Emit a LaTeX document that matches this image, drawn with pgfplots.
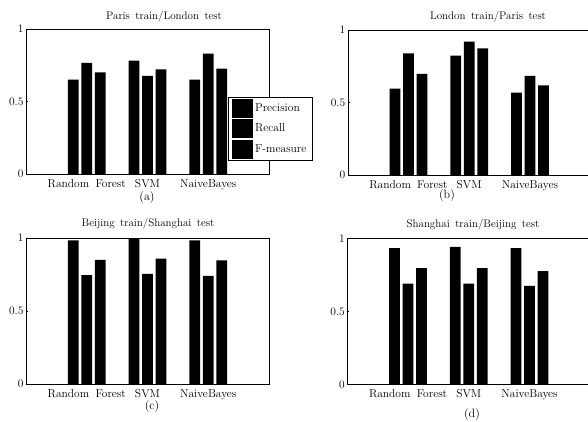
\documentclass[border=0pt]{standalone}
\usepackage{pgfplots}
\pgfplotsset{compat=1.18}
\pgfplotsset{
  panel/.style={
    scale only axis, width=243pt,
    xmin=0, xmax=4, ymin=0, ymax=1,
    xtick={1,2,3}, xticklabels={Random\hspace{0.55em}Forest, SVM, NaiveBayes},
    ytick={0,0.5,1}, yticklabels={0,0.5,1},
    xtick style={draw=none}, ytick style={black, thin},
    tick pos=left, major tick length=2pt,
    tick label style={font=\fontsize{11.5}{13}\selectfont},
    xticklabel style={yshift=0pt},
    yticklabel style={xshift=1pt},
    axis line style={black, thin},
    ybar, bar width=0.178, area legend,
    every axis plot/.append style={fill=black, draw=none},
    anchor=south west,
  },
}
\begin{document}
\begin{tikzpicture}
% (a)
\begin{axis}[panel, at={(26pt,247pt)}, height=145pt,
  legend style={at={(rel axis cs:0.831,0.531)}, anchor=north west, draw=black, thin,
    font=\fontsize{11.5}{13}\selectfont, inner xsep=4pt, inner ysep=1.5pt, row sep=1.5pt,
    cells={anchor=west}},
  legend image code/.code={\fill[black] (0pt,-9.5pt) rectangle (21pt,9.5pt);},
  legend cell align=left]
\addplot[bar shift=-0.222] coordinates {(1,0.651) (2,0.782) (3,0.651)};
\addplot[bar shift=0] coordinates {(1,0.766) (2,0.676) (3,0.830)};
\addplot[bar shift=0.222] coordinates {(1,0.701) (2,0.722) (3,0.726)};
\legend{Precision, Recall, F-measure}
\end{axis}
% (b)
\begin{axis}[panel, at={(347.7pt,246pt)}, height=145pt]
\addplot[bar shift=-0.222] coordinates {(1,0.595) (2,0.823) (3,0.568)};
\addplot[bar shift=0] coordinates {(1,0.839) (2,0.920) (3,0.683)};
\addplot[bar shift=0.222] coordinates {(1,0.697) (2,0.874) (3,0.618)};
\end{axis}
% (c)
\begin{axis}[panel, at={(26pt,37pt)}, height=146pt]
\addplot[bar shift=-0.222] coordinates {(1,0.984) (2,0.993) (3,0.984)};
\addplot[bar shift=0] coordinates {(1,0.746) (2,0.755) (3,0.741)};
\addplot[bar shift=0.222] coordinates {(1,0.851) (2,0.858) (3,0.847)};
\end{axis}
% (d)
\begin{axis}[panel, at={(347.3pt,36.7pt)}, height=146pt]
\addplot[bar shift=-0.222] coordinates {(1,0.932) (2,0.941) (3,0.932)};
\addplot[bar shift=0] coordinates {(1,0.689) (2,0.689) (3,0.674)};
\addplot[bar shift=0.222] coordinates {(1,0.795) (2,0.795) (3,0.776)};
\end{axis}
\begin{scope}[every node/.style={font=\fontsize{11}{13}\selectfont, inner sep=0pt}]
\node at (164pt,404pt) {Paris\hspace{0.5em}train/London\hspace{0.5em}test};
\node at (488pt,404pt) {London\hspace{0.5em}train/Paris\hspace{0.5em}test};
\node at (148pt,197pt) {Beijing\hspace{0.5em}train/Shanghai\hspace{0.5em}test};
\node at (473pt,196pt) {Shanghai\hspace{0.5em}train/Beijing\hspace{0.5em}test};
\node[font=\fontsize{12}{14}\selectfont] at (147pt,223pt) {(a)};
\node[font=\fontsize{12}{14}\selectfont] at (447pt,225pt) {(b)};
\node[font=\fontsize{12}{14}\selectfont] at (152pt,14pt) {(c)};
\node[font=\fontsize{12}{14}\selectfont] at (472pt,6pt) {(d)};
\end{scope}
\pgfresetboundingbox
\path[use as bounding box] (0pt,0pt) rectangle (588pt,421pt);
\end{tikzpicture}
\end{document}
